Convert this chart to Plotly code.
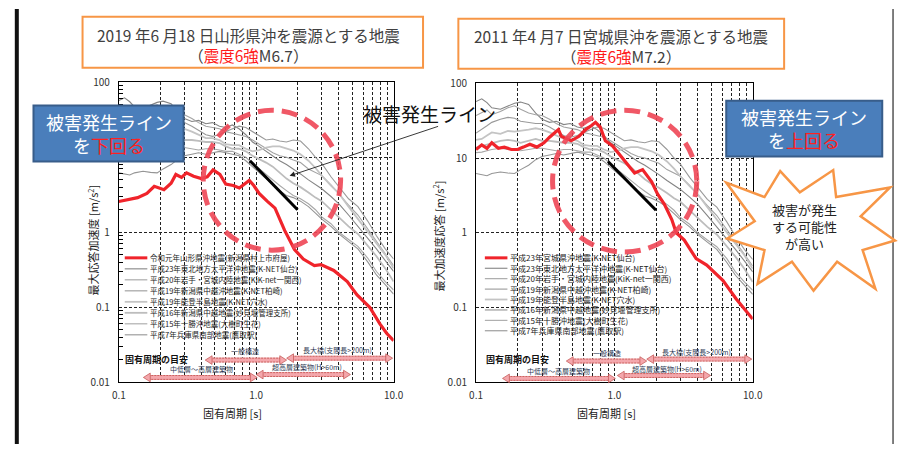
import plotly.graph_objects as go

W, H = 905, 451
FONT = "Noto Sans CJK JP"


def X(px):
    return px / W


def Y(py):
    return 1 - py / H


# ---------------- data ----------------
PERIODS = [0.10, 0.11, 0.12, 0.13, 0.15, 0.17, 0.19, 0.21, 0.24, 0.27, 0.30, 0.34, 0.38,
           0.43, 0.48, 0.54, 0.60, 0.67, 0.75, 0.84, 0.94, 1.05, 1.18, 1.32, 1.48, 1.66,
           1.86, 2.1, 2.4, 2.7, 3.0, 3.5, 4.0, 4.7, 5.5, 6.5, 7.5, 8.7, 10.0]

G_TOHOKU = [57, 62, 55, 47, 45, 50, 54, 56, 52, 40, 33, 30, 31, 28, 29, 26, 25, 27, 24, 20,
            16, 14, 12, 10.5, 9, 8, 7, 6, 5, 4.3, 3.8, 3.0, 2.4, 1.7, 1.2, 0.85, 0.6, 0.42, 0.3]
G_IWATE = [37, 40, 44, 38, 42, 47, 50, 45, 40, 38, 37, 33, 29, 26, 25, 24, 22, 21, 20, 19,
           17, 15, 13, 11.5, 10.5, 10, 9.2, 8.5, 7, 6.2, 5.7, 4.3, 3.2, 2.3, 1.7, 1.1, 0.75, 0.5, 0.36]
G_KASHIWAZAKI = [21.5, 24, 27, 30, 33, 35, 34, 31, 30, 29, 29, 26, 23, 20, 19, 20, 22, 24, 26, 25,
                 22, 19, 17, 17.5, 16.5, 16, 17, 16.5, 13, 10, 8.3, 5.5, 4, 2.8, 2.2, 1.4, 0.9, 0.6, 0.44]
G_NOTO = [17.5, 18, 20, 22, 21, 23, 22.5, 23, 24, 25, 24, 22, 20, 18, 18, 17, 15, 14.5, 14.5, 13,
          12, 12.5, 13.5, 14, 14, 13, 12.3, 11, 9, 7.2, 5.7, 4.2, 3.3, 2.2, 1.5, 1.0, 0.7, 0.5, 0.33]
G_CHUETSU = [13.8, 14.5, 15, 16, 17, 17.5, 17, 16, 17, 18, 17, 17, 16.5, 16, 16, 15.5, 14, 13, 13, 12,
             10.5, 9.5, 8.5, 7.5, 6.2, 5.2, 4.5, 4.0, 3.4, 2.9, 2.6, 2.0, 1.6, 1.2, 0.95, 0.65, 0.48, 0.33, 0.22]
G_TOKACHI = [11.8, 12, 12.5, 13, 13.5, 13, 13, 12.5, 13, 13.5, 13.5, 13, 12.5, 13, 13, 12.5, 12, 12, 11, 10,
             8.3, 7, 6, 5, 4.2, 3.6, 3.1, 2.8, 2.4, 2.0, 1.6, 1.3, 1.0, 0.8, 0.65, 0.45, 0.3, 0.22, 0.17]
G_HYOGO = [6.2, 6.0, 5.8, 6.2, 6.5, 6.3, 6.2, 7, 8, 9.5, 10.5, 11, 11.5, 11, 11.5, 12, 11.5, 11, 10.5, 9,
           7.5, 6.2, 5.2, 4.4, 3.6, 3.1, 2.9, 2.6, 2.2, 1.8, 1.5, 1.2, 0.95, 0.75, 0.6, 0.4, 0.27, 0.2, 0.15]

GRAY_SERIES = [G_TOHOKU, G_IWATE, G_KASHIWAZAKI, G_NOTO, G_CHUETSU, G_TOKACHI, G_HYOGO]
GRAY_NAMES = ["平成23年東北地方太平洋沖地震(K-NET仙台)",
              "平成20年岩手・宮城内陸地震(KiK-net一関西)",
              "平成19年新潟県中越沖地震(K-NET柏崎)",
              "平成19年能登半島地震(K-NET穴水)",
              "平成16年新潟県中越地震(妙見堰管理支所)",
              "平成15年十勝沖地震(大樹町生花)",
              "平成7年兵庫県南部地震(鷹取駅)"]

YAMAGATA_NAME = "令和元年山形県沖地震(新潟県村上市府屋)"
YAMAGATA_PERIOD = [0.1, 0.137, 0.16, 0.181, 0.213, 0.24, 0.26, 0.286, 0.311, 0.35, 0.398, 0.44,
                   0.485, 0.544, 0.6, 0.68, 0.753, 0.89, 0.96, 1.05, 1.2, 1.37, 1.61, 1.9, 2.2,
                   2.65, 2.96, 3.67, 4.6, 5.4, 6.7, 7.95, 8.9, 10]
YAMAGATA_ACC = [2.57, 2.9, 3.3, 4.1, 3.7, 4.5, 5.9, 5.4, 6.2, 5.6, 5.2, 5.5, 6.8, 5.9, 4.4, 4.2,
                3.9, 4.9, 4.2, 3.3, 2.6, 2.1, 1.06, 0.59, 0.44, 0.36, 0.37, 0.31, 0.22, 0.147,
                0.1, 0.06, 0.045, 0.036]

MIYAGI_NAME = "平成23年宮城県沖地震(K-NET仙台)"
MIYAGI_PERIOD = [0.1, 0.11, 0.12, 0.13, 0.145, 0.16, 0.18, 0.2, 0.22, 0.245, 0.275, 0.31, 0.34,
                 0.394, 0.414, 0.45, 0.487, 0.555, 0.62, 0.68, 0.73, 0.79, 0.86, 0.97, 1.07,
                 1.23, 1.4, 1.6, 1.86, 2.05, 2.3, 2.6, 2.8, 3.2, 3.9, 4.65, 6.1, 7.6, 8.9, 10]
MIYAGI_ACC = [13, 15, 13.5, 16, 13.5, 14, 13, 13, 14, 15.3, 14, 16, 19, 24, 19.5, 18, 17, 19.5,
              24, 27, 30, 26, 17, 14.5, 11.5, 8.5, 6.3, 7, 4.8, 3.3, 2.4, 1.5, 1.0, 0.8, 0.45,
              0.37, 0.23, 0.13, 0.09, 0.07]

DAMAGE_PERIOD = [0.9, 2.0]
DAMAGE_ACC = [9.0, 2.0]

X_TICKS = [0.1, 1, 10]
X_TICK_TEXT = ["0.1", "1.0", "10.0"]
Y_TICKS = [0.01, 0.1, 1, 10, 100]
Y_TICK_TEXT = ["0.01", "0.1", "1", "10", "100"]
MINOR = [k * 10 ** e for e in range(-2, 2) for k in range(2, 10)]

GRAY_STYLE = [("#858585", 1.1), ("#a3a3a3", 1.1), ("#9a9a9a", 1.1), ("#c4c4c4", 1.8),
              ("#bdbdbd", 1.8), ("#a8a8a8", 1.1), ("#959595", 1.1)]
RED = "#f0242b"

fig = go.Figure()

for idx, sfx in ((1, ""), (2, "2")):
    for vals, (col, w) in zip(GRAY_SERIES, GRAY_STYLE):
        fig.add_trace(go.Scatter(x=PERIODS, y=vals, mode="lines", line=dict(color=col, width=w),
                                 xaxis="x" + sfx, yaxis="y" + sfx, showlegend=False, hoverinfo="skip"))
    if idx == 1:
        px_, py_ = YAMAGATA_PERIOD, YAMAGATA_ACC
    else:
        px_, py_ = MIYAGI_PERIOD, MIYAGI_ACC
    fig.add_trace(go.Scatter(x=px_, y=py_, mode="lines", line=dict(color=RED, width=3.2),
                             xaxis="x" + sfx, yaxis="y" + sfx, showlegend=False))
    fig.add_trace(go.Scatter(x=DAMAGE_PERIOD, y=DAMAGE_ACC, mode="lines",
                             line=dict(color="black", width=3),
                             xaxis="x" + sfx, yaxis="y" + sfx, showlegend=False))


def xaxis(dom, anchor):
    return dict(type="log", domain=dom, anchor=anchor, range=[-1, 1],
                tickvals=X_TICKS, ticktext=X_TICK_TEXT, ticks="",
                tickfont=dict(family=FONT, size=10, color="#333"), ticklabelstandoff=4,
                showgrid=True, gridcolor="#222", gridwidth=0.8, griddash="3px,2px",
                minor=dict(tickvals=MINOR, showgrid=True, gridcolor="#222", gridwidth=0.8,
                           griddash="3px,2px", ticks=""),
                showline=True, linecolor="black", linewidth=1, mirror=True, zeroline=False)


def yaxis(dom, anchor, minor_ticks):
    m = dict(tickvals=MINOR, showgrid=False)
    if minor_ticks:
        m.update(ticks="inside", ticklen=4, tickcolor="black", tickwidth=1)
    else:
        m.update(ticks="")
    return dict(type="log", domain=dom, anchor=anchor, range=[-2, 2],
                tickvals=Y_TICKS, ticktext=Y_TICK_TEXT, ticks="",
                tickfont=dict(family=FONT, size=10, color="#333"), ticklabelstandoff=6,
                showgrid=True, gridcolor="#222", gridwidth=0.8, griddash="3px,2px",
                minor=m, showline=True, linecolor="black", linewidth=1, mirror=True,
                zeroline=False)


shapes = []
ann = []

# side borders
shapes.append(dict(type="line", xref="paper", yref="paper", x0=X(10), x1=X(10), y0=0, y1=1,
                   line=dict(color="#111", width=4)))
shapes.append(dict(type="line", xref="paper", yref="paper", x0=X(903), x1=X(903), y0=0, y1=1,
                   line=dict(color="#555", width=1.5)))


def rect(x0, y0, x1, y1, fill, line, lw):
    shapes.append(dict(type="rect", xref="paper", yref="paper", x0=X(x0), x1=X(x1),
                       y0=Y(y1), y1=Y(y0), fillcolor=fill, line=dict(color=line, width=lw),
                       layer="above"))


def text(x, y, s, size, color="#222", bold=False, xanchor="center", yanchor="middle"):
    if bold:
        s = "<b>" + s + "</b>"
    ann.append(dict(x=X(x), y=Y(y), xref="paper", yref="paper", text=s, showarrow=False,
                    font=dict(family=FONT, size=size, color=color), xanchor=xanchor,
                    yanchor=yanchor))


# title boxes
rect(77, 8, 424, 61, "white", "#f79646", 2)
text(246, 37, "2019 年6 月18 日山形県沖を震源とする地震<br>（<span style='color:#ff1a1a'>震度6強</span>M6.7）",
     15.5, "#404040")
rect(460, 10, 792, 62, "white", "#f79646", 2)
text(626, 38, "2011 年4 月7 日宮城県沖を震源とする地震<br>（<span style='color:#ff1a1a'>震度6強</span>M7.2）",
     15.5, "#404040")

# axis titles
ann.append(dict(x=X(77), y=Y(240), xref="paper", yref="paper", text="最大応答加速度 [m/s<sup>2</sup>]",
                showarrow=False, textangle=-90, font=dict(family=FONT, size=11, color="#222")))
ann.append(dict(x=X(440), y=Y(235), xref="paper", yref="paper", text="最大加速度応答 [m/s<sup>2</sup>]",
                showarrow=False, textangle=-90, font=dict(family=FONT, size=11, color="#222")))
text(230, 419, "固有周期 [s]", 11, "#222")
text(611, 419, "固有周期 [s]", 11, "#222")

# legends
LEG_STYLE = [(RED, 3)] + [(c, max(w, 1.0)) for c, w in GRAY_STYLE]
for (lx0, lx1, tx, ys, fs, names) in (
        (120, 143, 144, [258 + i * 11.4 for i in range(8)], 7.5, [YAMAGATA_NAME] + GRAY_NAMES),
        (487, 510, 511, [258 + i * 10.8 for i in range(8)], 8, [MIYAGI_NAME] + GRAY_NAMES)):
    for (col, w), yy, nm in zip(LEG_STYLE, ys, names):
        shapes.append(dict(type="line", xref="paper", yref="paper", x0=X(lx0), x1=X(lx1),
                           y0=Y(yy), y1=Y(yy), line=dict(color=col, width=w), layer="above"))
        text(tx, yy, nm, fs, "#222", xanchor="left")


# period guide arrows
def period_arrow(x0, x1, y):
    shapes.append(dict(type="line", xref="paper", yref="paper", x0=X(x0 + 5), x1=X(x1 - 5),
                       y0=Y(y), y1=Y(y), line=dict(color="#f4a7ac", width=5), layer="above"))
    for dy in (-2, 2):
        shapes.append(dict(type="line", xref="paper", yref="paper", x0=X(x0 + 5), x1=X(x1 - 5),
                           y0=Y(y + dy), y1=Y(y + dy),
                           line=dict(color="#c0504d", width=0.8, dash="2px,1px"), layer="above"))
    for tip, base in ((x0, x0 + 7), (x1, x1 - 7)):
        shapes.append(dict(type="path", xref="paper", yref="paper",
                           path=f"M {X(tip)},{Y(y)} L {X(base)},{Y(y - 4.5)} L {X(base)},{Y(y + 4.5)} Z",
                           fillcolor="#f4a7ac", line=dict(color="#c0504d", width=0.7), layer="above"))


LABEL_C = "#2f3b55"
# left chart guide
text(118, 363, "固有周期の目安", 9, "#111", bold=True, xanchor="left")
period_arrow(202, 285, 364)
period_arrow(285, 393, 362)
period_arrow(139, 255, 382)
period_arrow(254, 350, 379)
text(243, 355, "一般構造", 7, LABEL_C)
text(337, 354, "長大橋(支間長>200m)", 7, LABEL_C)
text(198, 373, "中低層～高層建築物", 7, LABEL_C)
text(306, 371, "超高層建築物(H>60m)", 7, LABEL_C)
# right chart guide
text(486, 363, "固有周期の目安", 9, "#111", bold=True, xanchor="left")
period_arrow(570, 652, 365)
period_arrow(652, 759, 363)
period_arrow(505, 620, 383)
period_arrow(622, 717, 380)
text(611, 357, "一般構造", 7, LABEL_C)
text(703, 356, "長大橋(支間長>200m)", 7, LABEL_C)
text(562, 375, "中低層～高層建築物", 7, LABEL_C)
text(673, 373, "超高層建築物(H>60m)", 7, LABEL_C)

# dashed red circles
for (cx0, cy0, cx1, cy1) in ((200, 105, 340, 250), (556, 105, 703, 252)):
    shapes.append(dict(type="circle", xref="paper", yref="paper", x0=X(cx0), x1=X(cx1),
                       y0=Y(cy1), y1=Y(cy0), line=dict(color="rgba(238,70,85,0.9)", width=5,
                                                        dash="16px,8px"), layer="above"))

# blue boxes
rect(27, 100, 180, 158, "#4a7ebb", "#385d8a", 2)
text(103.5, 129, "被害発生ライン<br>を<span style='color:#ff2020'>下回る</span>", 18, "white")
rect(733, 95, 892, 153, "#4a7ebb", "#385d8a", 2)
text(812.5, 124, "被害発生ライン<br>を<span style='color:#ff2020'>上回る</span>", 18, "white")

# damage line label + arrow
text(431, 108, "被害発生ライン", 19, "#111")
ann.append(dict(x=X(288), y=Y(173), xref="paper", yref="paper", text="", showarrow=True,
                ax=150, ay=-50, arrowhead=2, arrowsize=1.2, arrowwidth=0.9, arrowcolor="#222"))

# burst
STAR = [(733, 180), (772, 195), (788, 168), (808, 190), (842, 167), (845, 195), (900, 185),
        (870, 215), (905, 240), (872, 250), (885, 290), (846, 262), (822, 292), (800, 262),
        (765, 285), (772, 250), (734, 238), (762, 220)]
path = "M " + " L ".join(f"{X(a)},{Y(b)}" for a, b in STAR) + " Z"
shapes.append(dict(type="path", xref="paper", yref="paper", path=path, fillcolor="white",
                   line=dict(color="#f79646", width=2.5), layer="above"))
text(813, 225, "被害が発生<br>する可能性<br>が高い", 13, "#222")

fig.update_layout(
    width=W, height=H, margin=dict(l=0, r=0, t=0, b=0),
    paper_bgcolor="white", plot_bgcolor="white", showlegend=False,
    xaxis=xaxis([X(114), X(394)], "y"),
    yaxis=yaxis([Y(387), Y(76)], "x", True),
    xaxis2=xaxis([X(478), X(760)], "y2"),
    yaxis2=yaxis([Y(387), Y(77)], "x2", False),
    shapes=shapes, annotations=ann,
    font=dict(family=FONT),
)

fig.write_html("out.html")
